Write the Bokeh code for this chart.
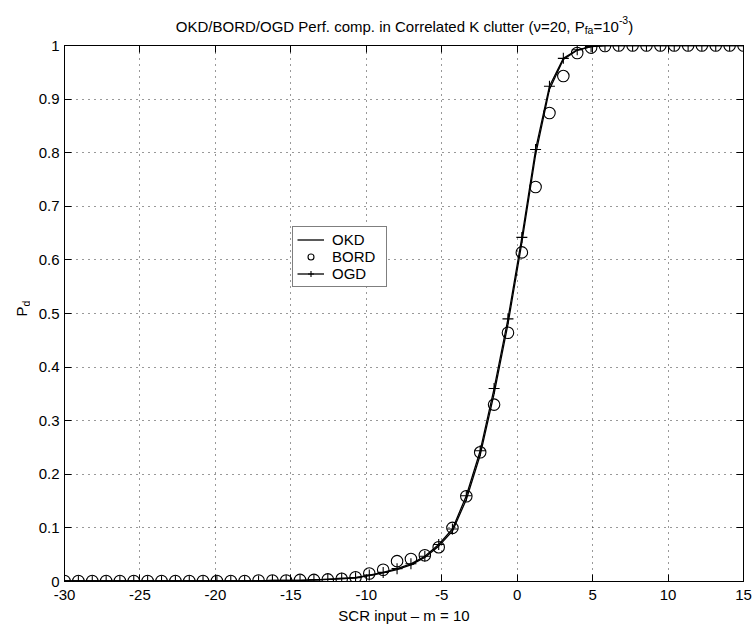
import math
from bokeh.plotting import figure
from bokeh.layouts import column, row
from bokeh.models import (Range1d, LinearAxis, FixedTicker, Label, Legend,
                          LegendItem, ColumnDataSource)
from bokeh.embed import file_html
from bokeh.resources import INLINE

# ---------------- data ----------------
scr_db = [-30.00, -29.08, -28.16, -27.24, -26.33, -25.41, -24.49, -23.57, -22.65, -21.73,
          -20.82, -19.90, -18.98, -18.06, -17.14, -16.22, -15.31, -14.39, -13.47, -12.55,
          -11.63, -10.71, -9.80, -8.88, -7.96, -7.04, -6.12, -5.20, -4.29, -3.37,
          -2.45, -1.53, -0.61, 0.31, 1.22, 2.14, 3.06, 3.98, 4.90, 5.82,
          6.73, 7.65, 8.57, 9.49, 10.41, 11.33, 12.24, 13.16, 14.08, 15.00]

pd_okd = [0.001, 0.001, 0.001, 0.001, 0.001, 0.001, 0.001, 0.001, 0.001, 0.001,
          0.001, 0.001, 0.001, 0.001, 0.001, 0.002, 0.002, 0.002, 0.003, 0.004,
          0.005, 0.007, 0.011, 0.016, 0.022, 0.031, 0.045, 0.066, 0.094, 0.153,
          0.236, 0.350, 0.480, 0.632, 0.796, 0.918, 0.974, 0.991, 0.998, 1.000,
          1.000, 1.000, 1.000, 1.000, 1.000, 1.000, 1.000, 1.000, 1.000, 1.000]

pd_bord = [0.001, 0.001, 0.001, 0.001, 0.001, 0.001, 0.001, 0.001, 0.001, 0.001,
           0.001, 0.001, 0.001, 0.001, 0.002, 0.002, 0.002, 0.003, 0.003, 0.004,
           0.005, 0.008, 0.015, 0.022, 0.038, 0.042, 0.049, 0.064, 0.100, 0.159,
           0.241, 0.330, 0.464, 0.614, 0.736, 0.874, 0.943, 0.986, 0.996, 0.999,
           1.000, 1.000, 1.000, 1.000, 1.000, 1.000, 1.000, 1.000, 1.000, 1.000]

pd_ogd = [0.001, 0.001, 0.001, 0.001, 0.001, 0.001, 0.001, 0.001, 0.001, 0.001,
          0.001, 0.001, 0.001, 0.001, 0.001, 0.002, 0.002, 0.002, 0.003, 0.004,
          0.006, 0.007, 0.012, 0.017, 0.024, 0.033, 0.047, 0.069, 0.098, 0.160,
          0.244, 0.360, 0.490, 0.642, 0.806, 0.924, 0.976, 0.992, 0.998, 1.000,
          1.000, 1.000, 1.000, 1.000, 1.000, 1.000, 1.000, 1.000, 1.000, 1.000]

series_names = ["OKD", "BORD", "OGD"]

x_ticks = [-30, -25, -20, -15, -10, -5, 0, 5, 10, 15]
x_tick_labels = ["-30", "-25", "-20", "-15", "-10", "-5", "0", "5", "10", "15"]
y_ticks = [0, 0.1, 0.2, 0.3, 0.4, 0.5, 0.6, 0.7, 0.8, 0.9, 1]
y_tick_labels = ["0", "0.1", "0.2", "0.3", "0.4", "0.5", "0.6", "0.7", "0.8", "0.9", "1"]

title_parts = ["OKD/BORD/OGD Perf. comp. in Correlated K clutter (\u03bd=20, P",
               "fa", "=10", "-3", ")"]
x_label = "SCR input \u2013 m = 10"
y_label_parts = ["P", "d"]

# ---------------- styling helpers ----------------
FONT = "Liberation Sans"
FS = 15
SUB = 10.5

ARIAL = {' ': 278, '(': 333, ')': 333, ',': 278, '-': 333, '.': 278, '/': 278, '=': 584,
         'A': 667, 'B': 667, 'C': 722, 'D': 722, 'E': 667, 'G': 778, 'K': 667, 'O': 778,
         'P': 667, 'R': 722, 'S': 667, 'a': 556, 'c': 500, 'd': 556, 'e': 556, 'f': 278,
         'i': 222, 'l': 222, 'm': 833, 'n': 556, 'o': 556, 'p': 556, 'r': 333, 't': 278,
         'u': 556, '\u03bd': 500}


def text_w(s, size):
    return sum(ARIAL.get(ch, 556) for ch in s) * size / 1000.0


TOTAL_W = 753
TITLE_H = 36
LEFT_W = 30
MAIN_H = 590
MAIN_W = TOTAL_W - LEFT_W
B_LEFT, B_RIGHT, B_TOP, B_BOTTOM = 34, 10, 9, 45


def blank(width, height):
    f = figure(width=width, height=height, output_backend="svg", toolbar_location=None,
               x_axis_location=None, y_axis_location=None, title=None,
               x_range=Range1d(0, 1), y_range=Range1d(0, 1),
               min_border=0, min_border_left=0, min_border_right=0,
               min_border_top=0, min_border_bottom=0)
    f.outline_line_color = None
    f.grid.visible = False
    f.background_fill_color = "white"
    f.border_fill_color = "white"
    return f


# ---------------- main plot ----------------
xr = Range1d(-30, 15)
yr = Range1d(0, 1)

p = figure(width=MAIN_W, height=MAIN_H, x_range=xr, y_range=yr, output_backend="svg",
           toolbar_location=None, title=None,
           min_border_left=B_LEFT, min_border_right=B_RIGHT, min_border_top=B_TOP,
           min_border_bottom=B_BOTTOM)
p.background_fill_color = "white"
p.border_fill_color = "white"
p.outline_line_color = "black"
p.outline_line_width = 1

src = ColumnDataSource(dict(x=scr_db, okd=pd_okd, bord=pd_bord, ogd=pd_ogd))

r_okd = p.line("x", "okd", source=src, line_color="black", line_width=1.3)
r_bord = p.scatter("x", "bord", source=src, marker="circle", size=11.5,
                   fill_color=None, line_color="black", line_width=1.1)
r_ogd_l = p.line("x", "ogd", source=src, line_color="black", line_width=1.3)
r_ogd_m = p.scatter("x", "ogd", source=src, marker="cross", size=11,
                    line_color="black", line_width=1.1)

xt = FixedTicker(ticks=x_ticks)
yt = FixedTicker(ticks=y_ticks)
for ax in (p.xaxis[0], p.yaxis[0]):
    ax.axis_line_color = "black"
    ax.major_tick_line_color = "black"
    ax.major_tick_in = 7
    ax.major_tick_out = 0
    ax.minor_tick_line_color = None
    ax.major_label_text_font = FONT
    ax.major_label_text_font_size = f"{FS}px"
    ax.major_label_text_color = "black"
p.xaxis[0].ticker = xt
p.yaxis[0].ticker = yt
p.xaxis[0].major_label_overrides = dict(zip(x_ticks, x_tick_labels))
p.yaxis[0].major_label_overrides = dict(zip(y_ticks, y_tick_labels))
p.xaxis[0].major_label_standoff = 8
p.yaxis[0].major_label_standoff = 5
p.xaxis[0].axis_label = x_label
p.xaxis[0].axis_label_text_font = FONT
p.xaxis[0].axis_label_text_font_size = f"{FS}px"
p.xaxis[0].axis_label_text_font_style = "normal"
p.xaxis[0].axis_label_text_color = "black"
p.xaxis[0].axis_label_standoff = 4

for loc, tk in (("above", xt), ("right", yt)):
    ax = LinearAxis(ticker=tk, major_label_text_font_size="0px", major_label_text_color=None,
                    major_tick_in=7, major_tick_out=0, minor_tick_line_color=None,
                    axis_line_color="black", major_tick_line_color="black",
                    major_label_standoff=0)
    p.add_layout(ax, loc)

p.xgrid[0].ticker = xt
p.ygrid[0].ticker = yt
p.grid.grid_line_color = "black"
p.grid.grid_line_dash = "1 5"
p.grid.grid_line_width = 1
p.grid.grid_line_alpha = 0.8

legend = Legend(items=[LegendItem(label=series_names[0], renderers=[r_okd]),
                       LegendItem(label=series_names[1], renderers=[r_bord]),
                       LegendItem(label=series_names[2], renderers=[r_ogd_l, r_ogd_m])],
                location=(228, 294), orientation="vertical")
legend.label_text_font = FONT
legend.label_text_font_size = f"{FS}px"
legend.label_text_line_height = 1.0
legend.label_text_color = "black"
legend.glyph_width = 27
legend.glyph_height = 15
legend.label_height = 15
legend.label_width = 50
legend.label_standoff = 8
legend.spacing = 0
legend.padding = 4
legend.margin = 0
legend.border_line_color = "black"
legend.border_line_width = 1.2
legend.background_fill_color = "white"
legend.background_fill_alpha = 1
p.add_layout(legend, "center")

# ---------------- title strip ----------------
tf = blank(TOTAL_W, TITLE_H)
sizes = [FS, SUB, FS, SUB, FS]
dys = [0, -3.5, 0, 6, 0]
widths = [text_w(t, s) for t, s in zip(title_parts, sizes)]
total = sum(widths)
cx = LEFT_W + B_LEFT + (MAIN_W - B_LEFT - B_RIGHT) / 2 + 0.5
base_y = TITLE_H - 25.7
off = cx - total / 2
for t, s, dy, w in zip(title_parts, sizes, dys, widths):
    tf.add_layout(Label(x=off, y=base_y + dy, x_units="screen", y_units="screen", text=t,
                        text_font=FONT, text_font_size=f"{s}px", text_color="black",
                        text_align="left", text_baseline="alphabetic"))
    off += w

# ---------------- y label strip (frame aligned with the main plot frame) ----------------
lf = blank(LEFT_W, MAIN_H)
wP = text_w(y_label_parts[0], FS)
frame_h = MAIN_H - B_TOP - B_BOTTOM
y0 = frame_h - (316 - TITLE_H - B_TOP)   # start of "P" measured from frame bottom
lf.add_layout(Label(x=21, y=y0, x_units="screen", y_units="screen", angle=math.pi / 2,
                    text=y_label_parts[0], text_font=FONT, text_font_size=f"{FS}px",
                    text_color="black", text_align="left", text_baseline="alphabetic"))
lf.add_layout(Label(x=25, y=y0 + wP, x_units="screen", y_units="screen", angle=math.pi / 2,
                    text=y_label_parts[1], text_font=FONT, text_font_size=f"{SUB}px",
                    text_color="black", text_align="left", text_baseline="alphabetic"))

layout = column(tf, row(lf, p, spacing=0), spacing=0)
open("out.html", "w").write(file_html(layout, INLINE))
